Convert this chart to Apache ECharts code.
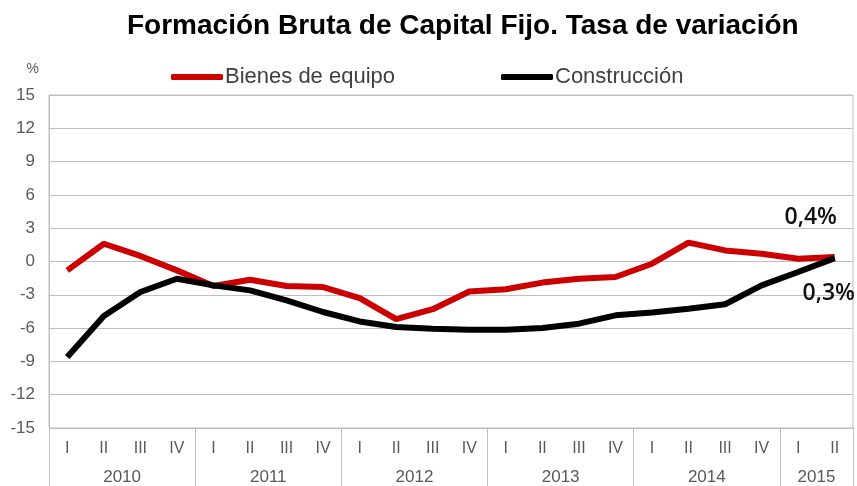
<!DOCTYPE html>
<html>
<head>
<meta charset="utf-8">
<script src="https://cdn.jsdelivr.net/npm/echarts@6/dist/echarts.min.js"></script>
<style>
  html, body { margin: 0; padding: 0; background: #fff; }
  #chart { width: 857px; height: 486px; }
</style>
</head>
<body>
<div id="chart"></div>
<script>
// Quarter labels and year groups along the x axis
const quarters = ['I','II','III','IV','I','II','III','IV','I','II','III','IV',
                  'I','II','III','IV','I','II','III','IV','I','II'];
const years = ['2010', '2011', '2012', '2013', '2014', '2015'];
const quartersPerYear = [4, 4, 4, 4, 4, 2];

// Tasa de variación (%)
const bienesEquipo = [-0.8, 1.6, 0.5, -0.8, -2.2, -1.65, -2.2, -2.3, -3.3, -5.2, -4.3,
                      -2.7, -2.5, -1.9, -1.55, -1.4, -0.2, 1.7, 1.0, 0.7, 0.25, 0.4];
const construccion = [-8.6, -4.9, -2.75, -1.55, -2.15, -2.6, -3.5, -4.55, -5.4, -5.9, -6.05,
                      -6.15, -6.15, -6.0, -5.6, -4.85, -4.6, -4.25, -3.85, -2.15, -0.95, 0.3];
const lastLabels = ['0,4%', '0,3%'];

const yTicks = { min: -15, max: 15, interval: 3 };

// year boundaries and centres on a 0..22 value scale
const yearEdges = [0];
const yearCenters = [];
quartersPerYear.forEach(function(n, i) {
    yearCenters.push(yearEdges[i] + n / 2);
    yearEdges.push(yearEdges[i] + n);
});

const grey = '#bfbfbf';
const textGrey = '#595959';

function withEndLabel(values, text, offset) {
    return values.map(function(v, i) {
        if (i !== values.length - 1) return v;
        return {
            value: v,
            label: {
                show: true,
                formatter: text,
                position: 'inside',
                offset: offset,
                fontFamily: 'Open Sans',
                fontSize: 23,
                fontWeight: 600,
                color: '#111'
            }
        };
    });
}

const chart = echarts.init(document.getElementById('chart'));
chart.setOption({
    animation: false,
    backgroundColor: '#fff',
    title: {
        text: 'Formación Bruta de Capital Fijo. Tasa de variación',
        left: 122,
        top: 7,
        textStyle: { fontFamily: 'Liberation Sans', fontWeight: 'bold', fontSize: 28, color: '#000' }
    },
    legend: [
        {
            data: ['Bienes de equipo'], left: 166, top: 61,
            icon: 'roundRect', itemWidth: 52, itemHeight: 6, itemGap: 4,
            textStyle: { fontFamily: 'Liberation Sans', fontSize: 22, color: '#404040', padding: [0, 0, 0, -3] }
        },
        {
            data: ['Construcción'], left: 496, top: 61,
            icon: 'roundRect', itemWidth: 52, itemHeight: 6, itemGap: 4,
            textStyle: { fontFamily: 'Liberation Sans', fontSize: 22, color: '#404040', padding: [0, 0, 0, -3] }
        }
    ],
    grid: {
        left: 49, right: 4, top: 95, bottom: 58,
        show: true, borderColor: grey, borderWidth: 1
    },
    xAxis: [
        {
            type: 'category',
            data: quarters,
            boundaryGap: true,
            axisLine: { lineStyle: { color: grey } },
            axisTick: { show: false },
            axisLabel: { color: textGrey, fontFamily: 'Liberation Sans', fontSize: 16, margin: 13, interval: 0 }
        },
        {
            type: 'value',
            min: 0,
            max: quarters.length,
            position: 'bottom',
            axisLine: { show: false },
            splitLine: { show: false },
            axisTick: {
                show: true,
                customValues: yearEdges,
                length: 58,
                lineStyle: { color: grey }
            },
            axisLabel: {
                customValues: yearCenters,
                formatter: function(v) {
                    const idx = yearCenters.indexOf(v);
                    return idx >= 0 ? years[idx] : '';
                },
                color: textGrey, fontFamily: 'Liberation Sans', fontSize: 17, margin: 41
            }
        }
    ],
    yAxis: {
        type: 'value',
        min: yTicks.min,
        max: yTicks.max,
        interval: yTicks.interval,
        name: '%',
        nameLocation: 'end',
        nameGap: 19,
        nameTextStyle: { color: textGrey, fontFamily: 'Liberation Sans', fontSize: 14, align: 'right', padding: [0, 10, 0, 0] },
        axisLine: { show: true, lineStyle: { color: grey } },
        axisTick: { show: false },
        splitLine: { lineStyle: { color: grey } },
        axisLabel: { color: textGrey, fontFamily: 'Liberation Sans', fontSize: 17, margin: 14 }
    },
    series: [
        {
            name: 'Bienes de equipo',
            type: 'line',
            data: withEndLabel(bienesEquipo, lastLabels[0], [-24, -40]),
            symbol: 'circle',
            symbolSize: 0,
            showSymbol: true,
            lineStyle: { color: '#cc0000', width: 6 },
            itemStyle: { color: '#cc0000' },
            z: 3
        },
        {
            name: 'Construcción',
            type: 'line',
            data: withEndLabel(construccion, lastLabels[1], [-6, 35]),
            symbol: 'circle',
            symbolSize: 0,
            showSymbol: true,
            lineStyle: { color: '#000', width: 6 },
            itemStyle: { color: '#000' },
            z: 4
        }
    ]
});
</script>
</body>
</html>
